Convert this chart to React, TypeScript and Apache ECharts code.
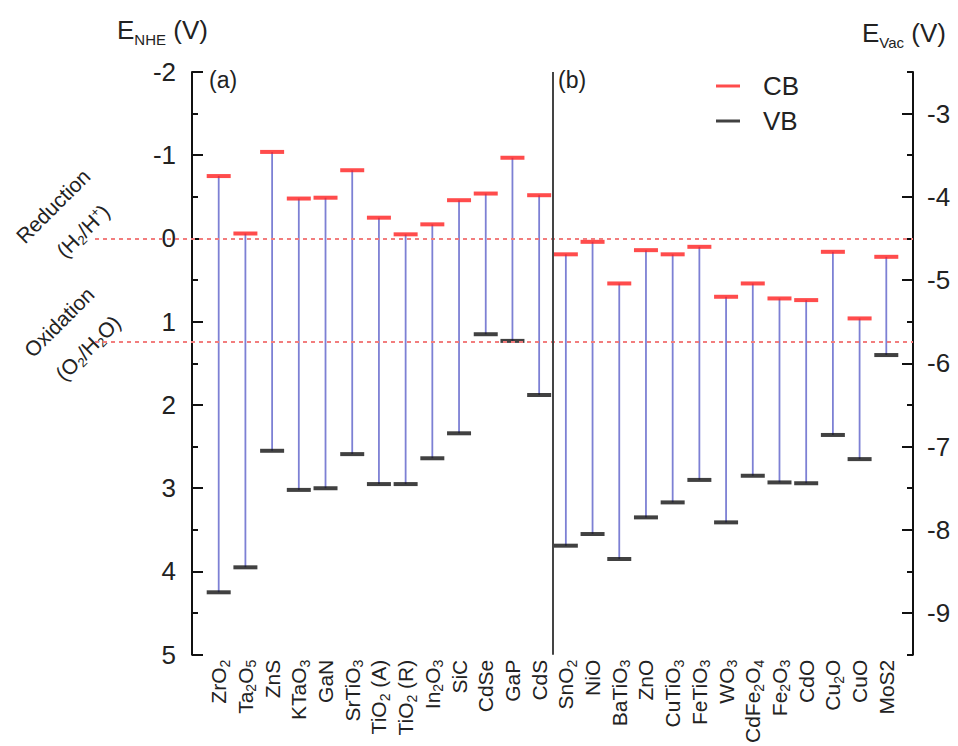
import React, { useEffect, useRef } from 'react';
import * as echarts from 'echarts';

// Materials (plain names) and their rich-text axis labels (subscripts)
const materials = [
  'ZrO2', 'Ta2O5', 'ZnS', 'KTaO3', 'GaN', 'SrTiO3', 'TiO2 (A)', 'TiO2 (R)', 'In2O3', 'SiC', 'CdSe', 'GaP', 'CdS',
  'SnO2', 'NiO', 'BaTiO3', 'ZnO', 'CuTiO3', 'FeTiO3', 'WO3', 'CdFe2O4', 'Fe2O3', 'CdO', 'Cu2O', 'CuO', 'MoS2',
];
const materialLabels = [
  'ZrO{s|2}', 'Ta{s|2}O{s|5}', 'ZnS', 'KTaO{s|3}', 'GaN', 'SrTiO{s|3}', 'TiO{s|2} (A)', 'TiO{s|2} (R)', 'In{s|2}O{s|3}', 'SiC', 'CdSe', 'GaP', 'CdS',
  'SnO{s|2}', 'NiO', 'BaTiO{s|3}', 'ZnO', 'CuTiO{s|3}', 'FeTiO{s|3}', 'WO{s|3}', 'CdFe{s|2}O{s|4}', 'Fe{s|2}O{s|3}', 'CdO', 'Cu{s|2}O', 'CuO', 'MoS2',
];

// Band edges vs NHE (V)
const cbValues = [
  -0.75, -0.06, -1.04, -0.48, -0.49, -0.82, -0.25, -0.05, -0.17, -0.46, -0.54, -0.97, -0.52,
  0.19, 0.04, 0.54, 0.14, 0.19, 0.10, 0.70, 0.54, 0.72, 0.74, 0.16, 0.96, 0.22,
];
const vbValues = [
  4.25, 3.95, 2.55, 3.02, 3.0, 2.59, 2.95, 2.95, 2.64, 2.34, 1.15, 1.23, 1.88,
  3.69, 3.55, 3.85, 3.35, 3.17, 2.90, 3.41, 2.85, 2.93, 2.94, 2.36, 2.65, 1.40,
];

// Water redox levels (V vs NHE)
const referenceLevels = [0, 1.23];
// Materials sit at positions 1..26 on the x scale; panel (a)/(b) boundary between 13 and 14
const panelDivider = 13.5;

// Right axis ticks (E vs vacuum)
const vacMajorTicks = [-3, -4, -5, -6, -7, -8, -9];
const vacMinorTicks = [-2.5, -3.5, -4.5, -5.5, -6.5, -7.5, -8.5, -9.5];

const FONT = '"Liberation Sans", Arial, Helvetica, sans-serif';

export default function App() {
  const ref = useRef<HTMLDivElement>(null);

  useEffect(() => {
    document.body.style.margin = '0';
    if (!ref.current) return;
    const chart = echarts.init(ref.current, null, { renderer: 'svg' });

    const axisColor = '#111';

    const option: any = {
      animation: false,
      backgroundColor: '#fff',
      textStyle: { fontFamily: FONT },
      grid: [
        { left: 192, right: 45, top: 72, bottom: 90 },
        { left: 95, right: 45, top: 72, bottom: 90 },
      ],
      legend: {
        data: [
          { name: 'CB', icon: 'rect' },
          { name: 'VB', icon: 'rect' },
        ],
        orient: 'vertical',
        left: 711,
        top: 68,
        itemWidth: 24,
        itemHeight: 3,
        itemGap: 9,
        textStyle: { fontSize: 26, color: '#222', fontFamily: FONT, padding: [0, 0, 0, 18] },
      },
      xAxis: [
        {
          gridIndex: 0,
          type: 'value',
          min: 0,
          max: 27,
          interval: 1,
          axisLine: { show: false, onZero: false },
          axisTick: { show: false },
          splitLine: { show: false },
          axisLabel: {
            rotate: 90,
            margin: 5,
            fontSize: 21,
            color: '#222',
            fontFamily: FONT,
            formatter: (v: number) => {
              const i = Math.round(v);
              if (Math.abs(v - i) > 1e-6) return '';
              return materialLabels[i - 1] ?? '';
            },
            rich: {
              s: { fontSize: 14, padding: [12, 0, 0, 0], fontFamily: FONT, color: '#222' },
            },
          },
        },
        { gridIndex: 1, type: 'value', min: 0, max: 1, show: false },
      ],
      yAxis: [
        {
          gridIndex: 0,
          type: 'value',
          inverse: true,
          min: -2,
          max: 5,
          interval: 1,
          position: 'left',
          axisLine: { show: true, onZero: false, lineStyle: { color: axisColor, width: 2 } },
          axisTick: { show: true, inside: true, length: 11, lineStyle: { color: axisColor, width: 2 } },
          minorTick: { show: true, splitNumber: 2, length: 6, lineStyle: { color: axisColor, width: 2 } },
          axisLabel: { fontSize: 26, margin: 16, color: '#222', fontFamily: FONT },
          splitLine: { show: false },
        },
        {
          gridIndex: 0,
          type: 'value',
          min: -9.5,
          max: -2.5,
          position: 'right',
          axisLine: { show: true, onZero: false, lineStyle: { color: axisColor, width: 2 } },
          axisTick: { show: true, inside: true, length: 11, customValues: vacMajorTicks, lineStyle: { color: axisColor, width: 2 } },
          axisLabel: { customValues: vacMajorTicks, fontSize: 26, margin: 14, color: '#222', fontFamily: FONT },
          splitLine: { show: false },
        },
        {
          gridIndex: 0,
          type: 'value',
          min: -9.5,
          max: -2.5,
          position: 'right',
          axisLine: { show: false, onZero: false },
          axisTick: { show: true, inside: true, length: 6, customValues: vacMinorTicks, lineStyle: { color: axisColor, width: 2 } },
          axisLabel: { show: false },
          splitLine: { show: false },
        },
        { gridIndex: 1, type: 'value', inverse: true, min: -2, max: 5, show: false },
      ],
      series: [
        {
          name: 'levels',
          type: 'line',
          xAxisIndex: 1,
          yAxisIndex: 3,
          data: [],
          silent: true,
          z: 1,
          markLine: {
            silent: true,
            symbol: 'none',
            label: { show: false },
            lineStyle: { type: [4, 4], color: '#f27d7d', width: 2 },
            data: referenceLevels.map((v) => ({ yAxis: v })),
          },
        },
        {
          name: 'gap',
          type: 'custom',
          xAxisIndex: 0,
          yAxisIndex: 0,
          z: 2,
          silent: true,
          data: materials.map((_, i) => [i + 1, cbValues[i], vbValues[i]]),
          encode: { x: 0, y: [1, 2] },
          renderItem: (params: any, api: any) => {
            const x = api.value(0);
            const p1 = api.coord([x, api.value(1)]);
            const p2 = api.coord([x, api.value(2)]);
            return {
              type: 'line',
              shape: { x1: p1[0], y1: p1[1], x2: p2[0], y2: p2[1] },
              style: { stroke: '#7d80d4', lineWidth: 1.8 },
            };
          },
          markLine: {
            silent: true,
            symbol: 'none',
            label: { show: false },
            lineStyle: { type: 'solid', color: '#444', width: 2 },
            data: [{ xAxis: panelDivider }],
          },
        },
        {
          name: 'CB',
          type: 'scatter',
          xAxisIndex: 0,
          yAxisIndex: 0,
          z: 3,
          symbol: 'rect',
          symbolSize: [24, 4],
          itemStyle: { color: '#ff1f1f' },
          data: materials.map((_, i) => [i + 1, cbValues[i]]),
        },
        {
          name: 'VB',
          type: 'scatter',
          xAxisIndex: 0,
          yAxisIndex: 0,
          z: 3,
          symbol: 'rect',
          symbolSize: [24, 4],
          itemStyle: { color: '#111' },
          data: materials.map((_, i) => [i + 1, vbValues[i]]),
        },
      ],
      graphic: [
        {
          type: 'text',
          left: 117,
          top: 17,
          style: {
            text: 'E{s|NHE} (V)',
            fontSize: 26,
            fill: '#222',
            fontFamily: FONT,
            rich: { s: { fontSize: 15, padding: [18, 0, 0, 0], fill: '#222', fontFamily: FONT } },
          },
        },
        {
          type: 'text',
          left: 862,
          top: 20,
          style: {
            text: 'E{s|Vac} (V)',
            fontSize: 26,
            fill: '#222',
            fontFamily: FONT,
            rich: { s: { fontSize: 15, padding: [18, 0, 0, 0], fill: '#222', fontFamily: FONT } },
          },
        },
        {
          type: 'text',
          left: 209,
          top: 68,
          style: { text: '(a)', fontSize: 23, fill: '#222', fontFamily: FONT },
        },
        {
          type: 'text',
          left: 558,
          top: 68,
          style: { text: '(b)', fontSize: 23, fill: '#222', fontFamily: FONT },
        },
        {
          type: 'text',
          x: 53,
          y: 206,
          rotation: Math.PI / 4,
          style: { text: 'Reduction', fontSize: 21, fill: '#222', fontFamily: FONT, align: 'center', verticalAlign: 'middle' },
        },
        {
          type: 'text',
          x: 83,
          y: 231,
          rotation: Math.PI / 4,
          style: {
            text: '(H{s|2}/H{p|+})',
            fontSize: 21,
            fill: '#222',
            fontFamily: FONT,
            align: 'center',
            verticalAlign: 'middle',
            rich: {
              s: { fontSize: 13, padding: [12, 0, 0, 0], fill: '#222', fontFamily: FONT },
              p: { fontSize: 13, padding: [0, 0, 10, 0], fill: '#222', fontFamily: FONT },
            },
          },
        },
        {
          type: 'text',
          x: 59,
          y: 322,
          rotation: Math.PI / 4,
          style: { text: 'Oxidation', fontSize: 21, fill: '#222', fontFamily: FONT, align: 'center', verticalAlign: 'middle' },
        },
        {
          type: 'text',
          x: 88,
          y: 348,
          rotation: Math.PI / 4,
          style: {
            text: '(O{s|2}/H{s|2}O)',
            fontSize: 21,
            fill: '#222',
            fontFamily: FONT,
            align: 'center',
            verticalAlign: 'middle',
            rich: {
              s: { fontSize: 13, padding: [12, 0, 0, 0], fill: '#222', fontFamily: FONT },
            },
          },
        },
      ],
    };

    chart.setOption(option);
    return () => {
      chart.dispose();
    };
  }, []);

  return <div ref={ref} style={{ width: 958, height: 746 }} />;
}
